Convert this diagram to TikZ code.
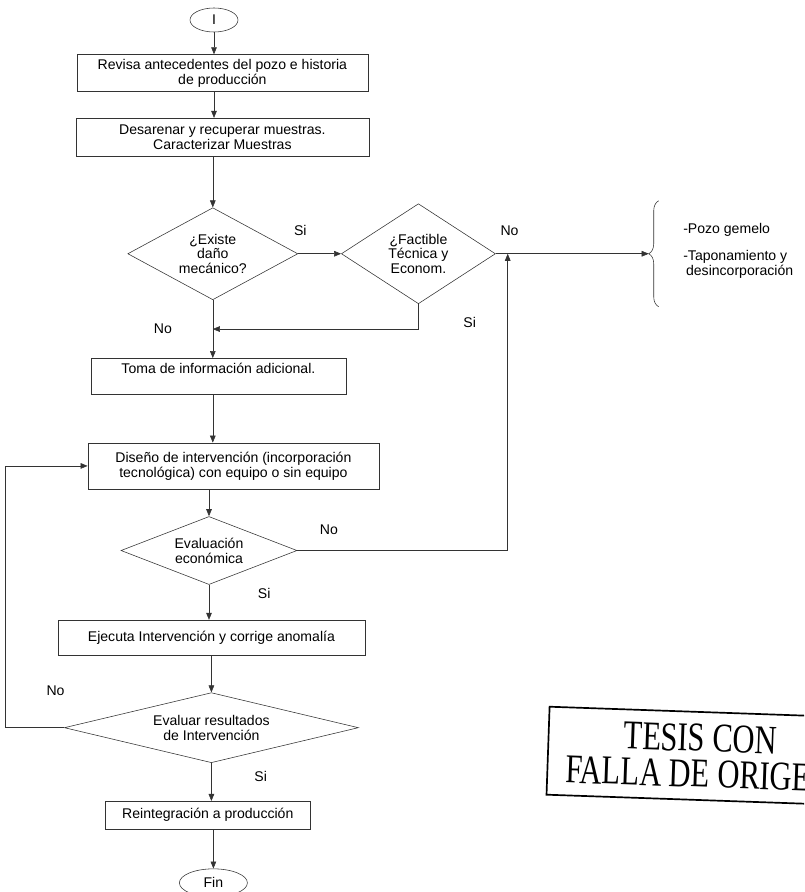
\documentclass[tikz,border=0pt]{standalone}
\usepackage{fontspec}
\setmainfont{Liberation Sans}
\newfontfamily\stampfont[FakeStretch=0.75]{Liberation Serif}
\usetikzlibrary{arrows.meta, calc, positioning, shapes.geometric, decorations.pathreplacing}

\begin{document}
\begin{tikzpicture}[
    x=0.025cm, y=-0.025cm,
    >={Triangle[length=5pt, width=4pt]},
    font=\fontsize{10}{10.5}\selectfont,
    proc/.style={
        draw=black!80,
        align=center,
        inner sep=2pt
    },
    decision/.style={
        draw=black!80,
        diamond,
        align=center,
        inner sep=0pt
    },
    terminal/.style={
        draw=black!80,
        ellipse,
        inner sep=0pt
    },
    flow/.style={->, draw=black!80, thin},
    link/.style={draw=black!80, thin},
    stamp/.style={
        draw,
        line width=1.2pt,
        align=center,
        minimum width=7.6cm,
        minimum height=2.2cm,
        font=\stampfont\fontsize{29}{25.5}\selectfont
    }
]
\useasboundingbox (0,0) rectangle (804,892);
\clip (0,0) rectangle (804,892);

\node[terminal, minimum width=1.2cm, minimum height=0.6cm] (ini) at (214,20) {I};
\node[proc, minimum width=7.275cm, minimum height=0.925cm, below=0.55cm of ini, xshift=0.21cm] (rev) {Revisa antecedentes del pozo e historia\\de producción};
\node[proc, minimum width=7.325cm, minimum height=0.95cm, below=0.65cm of rev] (des) {Desarenar y recuperar muestras.\\Caracterizar Muestras};
\node[decision, aspect=1.85, minimum width=4.25cm, minimum height=2.3cm, below=1.275cm of des, xshift=-0.24cm] (dano) {¿Existe\\daño\\mecánico?};
\node[decision, aspect=1.54, minimum width=3.85cm, minimum height=2.5cm, right=1.075cm of dano] (fact) {¿Factible\\Técnica y\\Econom.};
\node[proc, minimum width=6.375cm, minimum height=0.9cm, text depth=0.4cm, below=1.45cm of dano, xshift=0.14cm] (toma) {Toma de información adicional.};
\node[proc, minimum width=7.275cm, minimum height=1.15cm, below=1.2cm of toma, xshift=0.375cm] (dis) {Diseño de intervención (incorporación\\tecnológica) con equipo o sin equipo};
\node[decision, aspect=2.59, minimum width=4.4cm, minimum height=1.7cm, below=0.675cm of dis, xshift=-0.61cm] (eco) {Evaluación\\económica};
\node[proc, minimum width=7.675cm, minimum height=0.875cm, below=0.875cm of eco, xshift=0.06cm] (ejec) {Ejecuta Intervención y corrige anomalía};
\node[decision, aspect=4.2, minimum width=7.35cm, minimum height=1.75cm, below=0.925cm of ejec] (res) {Evaluar resultados\\de Intervención};
\node[proc, minimum width=5.125cm, minimum height=0.7cm, below=0.95cm of res, xshift=-0.09cm] (rein) {Reintegración a producción};
\node[terminal, minimum width=1.7cm, minimum height=0.7cm, below=0.975cm of rein, xshift=0.14cm] (fin) {Fin};

% free ends of the connectors
\coordinate (j1) at ($(dano.south)!0.5!(dano.south |- toma.north)$);
\coordinate (bt) at ($(fact.east)+(153,0)$);
\coordinate (up) at ($(fact.east)+(12,0)$);
\coordinate (lft) at ($(dis.west)+(-82,0)$);

% alternatives
\draw[link, decorate, decoration={brace, amplitude=0.25cm}] ($(bt)+(10,53)$) -- ($(bt)+(10,-53)$);
\node[align=left, anchor=north west, inner sep=0pt] (opts) at (683,223) {-Pozo gemelo\\[0.3cm]-Taponamiento y\\\hspace*{2pt}desincorporación};

\draw[flow] (ini) -- (ini |- rev.north);
\draw[flow] (ini |- rev.south) -- (ini |- des.north);
\draw[flow] (dano |- des.south) -- (dano);
\draw[flow] (dano) -- node[pos=0.05, above=9pt] {Si} (fact);
\draw[flow] (fact) -- node[pos=0.09, above=9pt] {No} (bt);
\draw[flow] (fact) -- node[pos=0.75, right=1.0cm] {Si} (fact |- j1) -- (j1);
\draw[flow] (dano) -- (j1) node[left=0.9cm] {No} -- (dano |- toma.north);
\draw[flow] (dano |- toma.south) -- (dano |- dis.north);
\draw[flow] (eco |- dis.south) -- (eco);
\draw[flow] (eco) -- node[pos=0.25, right=1.1cm] {Si} (eco |- ejec.north);
\draw[flow] (eco) -- node[pos=0.15, above=8pt] {No} (eco -| up) -- (up);
\draw[flow] (res |- ejec.south) -- (res);
\draw[flow] (res) -- node[pos=0.35, right=0.95cm] {Si} (res |- rein.north);
\draw[flow] (fin |- rein.south) -- (fin);
\draw[flow] (res) -- (res -| lft) -- node[pos=0.14, right=0.9cm] {No} (lft |- dis.west) -- (dis.west);

\node[stamp, rotate=-2] (tesis) at (700,756) {TESIS CON\\FALLA DE ORIGEN};
\end{tikzpicture}
\end{document}
